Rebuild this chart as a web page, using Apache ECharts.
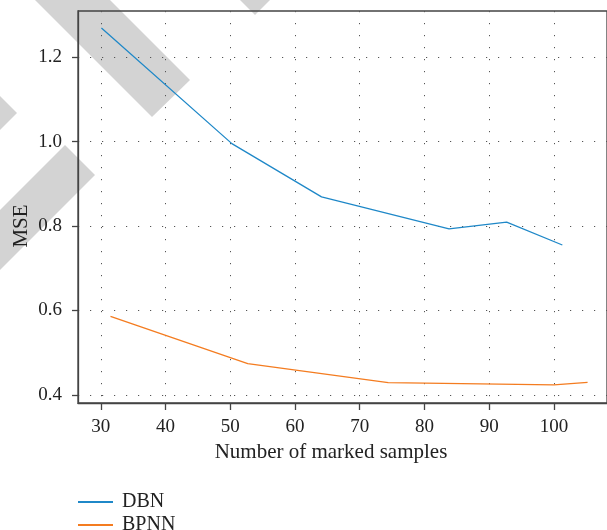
<!DOCTYPE html>
<html>
<head>
<meta charset="utf-8">
<script src="https://cdn.jsdelivr.net/npm/echarts@6/dist/echarts.min.js"></script>
<style>
  html, body { margin: 0; padding: 0; background: #fff; }
  #chart { width: 607px; height: 530px; }
</style>
</head>
<body>
<div id="chart"></div>
<script>
var seriesNames = ['DBN', 'BPNN'];
var dbnX = [30.1, 50.25, 64.1, 83.8, 92.7, 101.3];
var dbnY = [1.269, 0.995, 0.869, 0.793, 0.809, 0.755];
var bpnnX = [31.5, 52.7, 74.4, 100.0, 105.2];
var bpnnY = [0.586, 0.474, 0.429, 0.424, 0.430];
var xTicks = [30, 40, 50, 60, 70, 80, 90, 100];
var yTicks = [0.4, 0.6, 0.8, 1.0, 1.2];

var fontStack = '"Liberation Serif", "DejaVu Serif", serif';
var ink = '#222';
var axisCol = '#444';
var blue = '#1f88c8';
var orange = '#f47c20';
var band = '#d3d3d3';

function pairs(xs, ys) {
  return xs.map(function (x, i) { return [x, ys[i]]; });
}

// grey diagonal stripes sitting behind the plot
function stripe(pts) {
  return { type: 'polygon', z: -100, silent: true, shape: { points: pts }, style: { fill: band } };
}

var chart = echarts.init(document.getElementById('chart'), null, { renderer: 'canvas' });
chart.setOption({
  animation: false,
  backgroundColor: '#fff',
  textStyle: { fontFamily: fontStack },
  graphic: [
    stripe([[152, 117], [190, 80], [-10, -120], [-48, -83]]),
    stripe([[255, 15], [292.5, -22.5], [92.5, -222.5], [55, -185]]),
    stripe([[17, 113], [-20.5, 150.5], [-220.5, -49.5], [-183, -87]]),
    stripe([[65, 145], [95, 175], [-105, 375], [-135, 345]])
  ],
  grid: {
    left: 78, top: 11, right: -5, bottom: 127,
    show: true, borderColor: axisCol, borderWidth: 1.3, backgroundColor: 'transparent'
  },
  legend: {
    data: seriesNames,
    orient: 'vertical',
    left: 78,
    top: 492,
    height: 60,
    padding: 0,
    itemWidth: 35,
    itemHeight: 14,
    itemGap: 3,
    icon: 'path://M0,6 L35,6 L35,8 L0,8 Z',
    textStyle: { color: ink, fontFamily: fontStack, fontSize: 20, lineHeight: 20, padding: [0, 0, 0, 4] }
  },
  xAxis: {
    type: 'value',
    min: 26.48,
    max: 108.2,
    name: 'Number of marked samples',
    nameLocation: 'middle',
    nameGap: 38,
    nameTextStyle: { color: ink, fontFamily: fontStack, fontSize: 21, padding: [0, 23, 0, 0] },
    axisLine: { show: true, onZero: false, lineStyle: { color: axisCol, width: 1.3 } },
    axisTick: { show: true, length: 7, customValues: xTicks, lineStyle: { color: axisCol, width: 1.3 } },
    axisLabel: { customValues: xTicks, color: ink, fontFamily: fontStack, fontSize: 19, margin: 15 },
    splitLine: { show: true, lineStyle: { color: '#555', width: 1, type: [1.2, 10.8] } }
  },
  yAxis: {
    type: 'value',
    min: 0.381,
    max: 1.309,
    name: 'MSE',
    nameLocation: 'middle',
    nameGap: 46,
    nameMoveOverlap: false,
    nameTextStyle: { color: ink, fontFamily: fontStack, fontSize: 21, padding: [0, 38, 0, 0] },
    axisLine: { show: true, onZero: false, lineStyle: { color: axisCol, width: 1.3 } },
    axisTick: { show: true, length: 6, customValues: yTicks, lineStyle: { color: axisCol, width: 1.3 } },
    axisLabel: {
      customValues: yTicks, color: ink, fontFamily: fontStack, fontSize: 19, margin: 16,
      formatter: function (v) { return v.toFixed(1); }
    },
    splitLine: { show: true, lineStyle: { color: '#555', width: 1, type: [1.2, 10.8] } }
  },
  series: [
    {
      name: seriesNames[0],
      type: 'line',
      data: pairs(dbnX, dbnY),
      symbol: 'none',
      color: blue,
      lineStyle: { color: blue, width: 1.3 }
    },
    {
      name: seriesNames[1],
      type: 'line',
      data: pairs(bpnnX, bpnnY),
      symbol: 'none',
      color: orange,
      lineStyle: { color: orange, width: 1.3 }
    }
  ]
});
</script>
</body>
</html>
